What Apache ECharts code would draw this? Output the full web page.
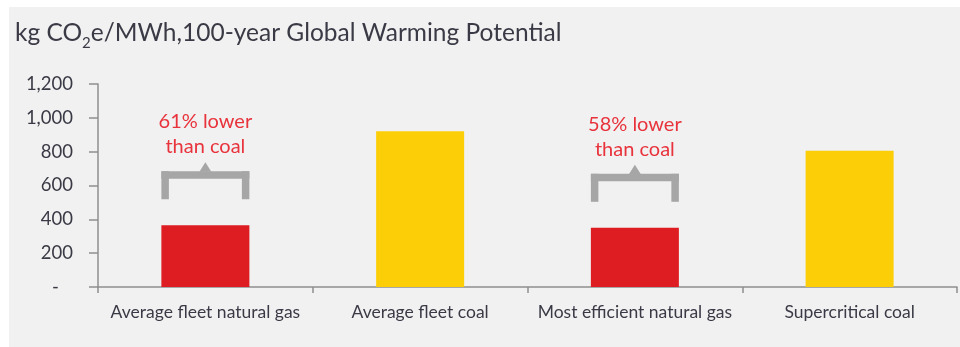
<!DOCTYPE html>
<html>
<head>
<meta charset="utf-8">
<script src="https://cdn.jsdelivr.net/npm/echarts@6/dist/echarts.min.js"></script>
<style>
  html, body { margin: 0; padding: 0; background: #ffffff; }
  #chart { width: 960px; height: 347px; }
</style>
</head>
<body>
<div id="chart"></div>
<script>
// Lifecycle emissions, kg CO2e per MWh
const categories = ['Average fleet natural gas', 'Average fleet coal', 'Most efficient natural gas', 'Supercritical coal'];
const emissions = [365, 920, 350, 805];
const barKinds = ['gas', 'coal', 'gas', 'coal'];
const yTicks = [0, 200, 400, 600, 800, 1000, 1200];

// Comparison callouts above the gas bars
const calloutCategory = [0, 2];
const calloutLines = [['61% lower', 'than coal'], ['58% lower', 'than coal']];

const RED = '#dd1d21';
const YELLOW = '#fbce07';
const AXIS = '#8f8f8f';
const TEXT = '#3a3a46';
const FONT = 'Lato, "Noto Sans", sans-serif';

const chart = echarts.init(document.getElementById('chart'), null, { renderer: 'canvas' });

const calloutData = calloutCategory.map((c, i) => [c, emissions[c], i]);

chart.setOption({
  animation: false,
  backgroundColor: '#ffffff',
  graphic: [{
    type: 'rect', silent: true, z: -10,
    shape: { x: 9, y: 7, width: 960, height: 360 },
    style: { fill: '#f1f1f1' }
  }],
  title: {
    text: '{n|kg CO}{sub|2}{n|e/MWh,100-year Global Warming Potential}',
    left: 10, top: 12,
    textStyle: {
      fontFamily: FONT, fontSize: 24.5, fontWeight: 'normal', color: TEXT,
      rich: {
        n: { fontFamily: FONT, fontSize: 24.5, color: TEXT, lineHeight: 26, verticalAlign: 'top', padding: [4, 0, 0, 0] },
        sub: { fontFamily: FONT, fontSize: 15, color: TEXT, lineHeight: 15, verticalAlign: 'top', padding: [19, 0, 0, 0] }
      }
    }
  },
  grid: { left: 98, right: 3, top: 84, bottom: 60, containLabel: false },
  xAxis: {
    type: 'category',
    data: categories,
    axisLine: { lineStyle: { color: AXIS, width: 1.5 } },
    axisTick: { show: true, length: 6, lineStyle: { color: AXIS, width: 1.5 } },
    axisLabel: { interval: 0, color: TEXT, fontFamily: FONT, fontSize: 17.5, margin: 16 }
  },
  yAxis: {
    type: 'value',
    min: yTicks[0], max: yTicks[yTicks.length - 1], interval: yTicks[1] - yTicks[0],
    axisLine: { show: true, lineStyle: { color: AXIS, width: 1.5 } },
    axisTick: { show: true, length: 9, lineStyle: { color: AXIS, width: 1.5 } },
    splitLine: { show: false },
    axisLabel: {
      color: TEXT, fontFamily: FONT, fontSize: 18.5, margin: 25,
      formatter: v => v === 0 ? '-   ' : v.toLocaleString('en-US')
    }
  },
  series: [
    {
      type: 'bar',
      barWidth: 88,
      data: emissions.map((v, i) => ({ value: v, itemStyle: { color: barKinds[i] === 'gas' ? RED : YELLOW } })),
      z: 2
    },
    {
      type: 'custom',
      data: calloutData,
      z: 3,
      renderItem: (params, api) => {
        const top = api.coord([api.value(0), api.value(1)]);
        const halfW = api.size([1, 0])[0] * 0.405 / 2 + 0.5;
        const lines = calloutLines[api.value(2)];
        const legBottom = top[1] - 26;
        const barTop = legBottom - 28;
        const t = 7.5;
        const gray = '#a6a6a6';
        const cx = top[0];
        return {
          type: 'group',
          children: [
            { type: 'rect', shape: { x: cx - halfW, y: barTop, width: halfW * 2, height: t }, style: { fill: gray } },
            { type: 'rect', shape: { x: cx - halfW, y: barTop, width: t, height: legBottom - barTop }, style: { fill: gray } },
            { type: 'rect', shape: { x: cx + halfW - t, y: barTop, width: t, height: legBottom - barTop }, style: { fill: gray } },
            { type: 'polygon', shape: { points: [[cx - 6, barTop + 0.5], [cx + 6, barTop + 0.5], [cx, barTop - 9]] }, style: { fill: gray } },
            {
              type: 'text',
              style: {
                x: cx, y: barTop - 12,
                text: lines.join('\n'),
                align: 'center', verticalAlign: 'bottom',
                fontFamily: FONT, fontSize: 20, lineHeight: 25,
                fill: '#e8333c'
              }
            }
          ]
        };
      }
    }
  ]
});
</script>
</body>
</html>
